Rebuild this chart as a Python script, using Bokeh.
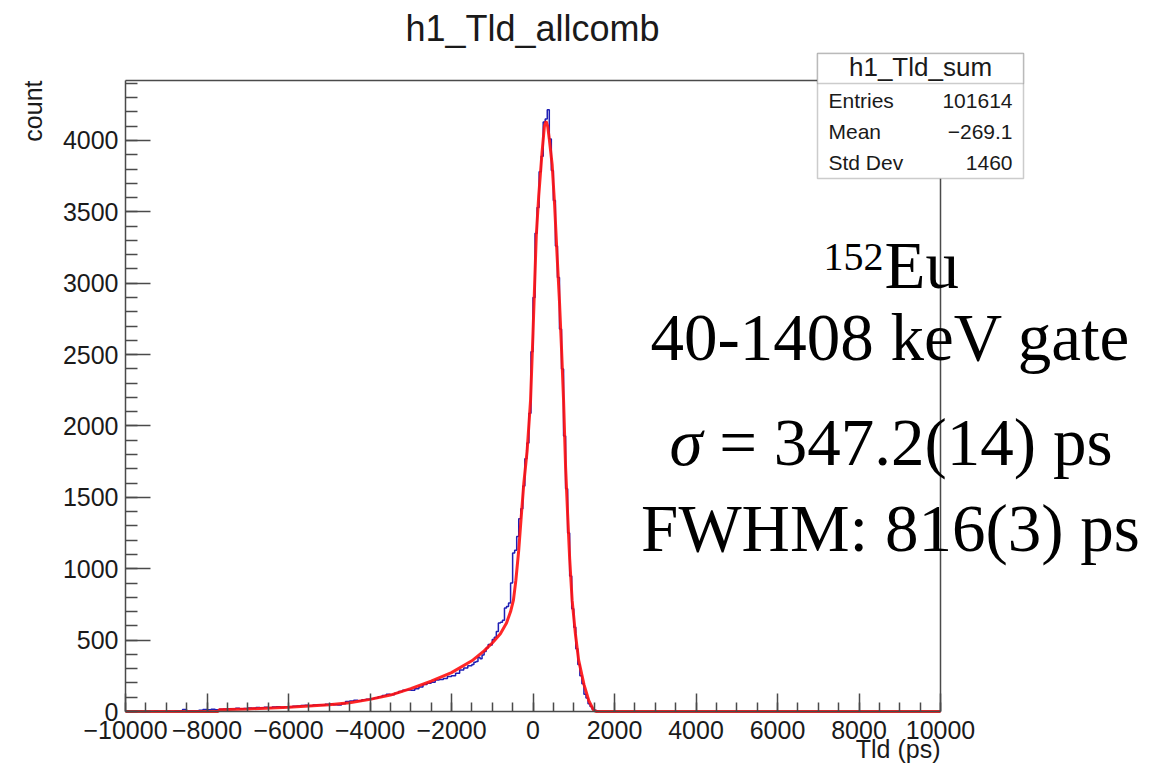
import numpy as np
from bokeh.plotting import figure
from bokeh.models import Range1d, FixedTicker, Label, BoxAnnotation
from bokeh.embed import file_html
from bokeh.resources import INLINE

# ---------------- data ----------------
# left tail: 100 ps wide steps (height = counts per 50 ps bin)
tail_edges = list(range(-10000, -1500, 100))
tail_counts = [1, 0, 2, 1, 0, 2, 1, 3, 2, 1,
               3, 2, 4, 3, 14, 5, 6, 5, 8, 14,
               13, 15, 12, 15, 18, 20, 17, 22, 19, 21,
               25, 23, 28, 26, 30, 27, 31, 33, 30, 34,
               32, 36, 38, 42, 44, 40, 45, 47, 44, 50,
               52, 48, 46, 55, 70, 74, 78, 76, 82, 86,
               90, 95, 103, 112, 120, 118, 128, 140, 148, 150,
               148, 160, 172, 190, 198, 205, 220, 225, 232, 245,
               250, 268, 290, 305, 320]
# core: 50 ps bins
core_edges = list(range(-1500, 1700, 50))
core_counts = [330, 345, 350, 380, 370, 395, 420, 445, 470, 465,
               505, 520, 560, 620, 625, 640, 725, 735, 760, 900,
               1110, 1130, 1225, 1350, 1420, 1580, 1770, 1880, 2090, 2520,
               2900, 3350, 3530, 3780, 3890, 4130, 4150, 4215, 4010, 3790,
               3580, 3260, 3040, 2680, 2400, 1930, 1560, 1250, 950, 720,
               590, 440, 330, 250, 195, 120, 95, 55, 35, 15,
               8, 3, 1, 0]
right_edges = [1700, 10000]
right_counts = [0, 0]

fit_x = [-10000, -7730, -7700, -7000, -6000, -5000, -4500, -4000, -3500, -3000,
         -2500, -2000, -1500, -1200, -1000, -800, -650, -550, -480, -420,
         -350, -290, -225, -143, -60, 0, 80, 140, 220, 280,
         320, 360, 400, 470, 530, 590, 650, 700, 750, 800,
         850, 900, 960, 1040, 1120, 1250, 1370, 1490, 1560, 10000]
fit_y = [0, 0, 12, 18, 30, 48, 62, 85, 115, 160,
         212, 272, 355, 425, 480, 545, 620, 700, 780, 920,
         1130, 1360, 1600, 1830, 2180, 2650, 3330, 3610, 3910, 4100,
         4135, 4100, 4010, 3830, 3550, 3200, 2870, 2540, 2180, 1710,
         1380, 1070, 780, 545, 360, 190, 75, 8, 0, 0]

x_ticks = [-10000, -8000, -6000, -4000, -2000, 0, 2000, 4000, 6000, 8000, 10000]
x_tick_labels = ["\u221210000", "\u22128000", "\u22126000", "\u22124000", "\u22122000",
                 "0", "2000", "4000", "6000", "8000", "10000"]
y_ticks = [0, 500, 1000, 1500, 2000, 2500, 3000, 3500, 4000]
y_tick_labels = ["0", "500", "1000", "1500", "2000", "2500", "3000", "3500", "4000"]

title_text = "h1_Tld_allcomb"
x_title = "Tld (ps)"
y_title = "count"
stats_name = "h1_Tld_sum"
stats_rows = [("Entries", "101614"), ("Mean", "\u2212269.1"), ("Std Dev", "1460")]

# ---------------- layout ----------------
W, H = 1173, 770
FL, FR, FT, FB = 125, 940, 80, 711          # pixel box of the histogram frame
X0, X1, Y0, Y1 = -10000, 10000, 0, 4420     # data limits of that frame
SX = (X1 - X0) / (FR - FL)
SY = (Y1 - Y0) / (FB - FT)


def dx(px):
    return X0 + (px - FL) * SX


def dy(py):
    return Y0 + (FB - py) * SY


SANS = "Liberation Sans"
SERIF = "Liberation Serif"
AX = "#4a4a4a"

# the plot frame fills the whole canvas; axes are pinned at the histogram edges
p = figure(width=W, height=H, output_backend="svg", toolbar_location=None,
           x_range=Range1d(dx(0), dx(W)), y_range=Range1d(dy(H), dy(0)),
           min_border=0, min_border_left=0, min_border_right=0,
           min_border_top=0, min_border_bottom=0)
p.background_fill_color = "white"
p.border_fill_color = "white"
p.outline_line_color = None
p.xgrid.visible = False
p.ygrid.visible = False

xa = p.xaxis[0]
xa.fixed_location = Y0
xa.bounds = (X0, X1)
xa.ticker = FixedTicker(ticks=x_ticks, minor_ticks=list(range(-10000, 10001, 500)))
xa.major_label_overrides = dict(zip(x_ticks, x_tick_labels))
xa.major_tick_in = 18
xa.major_tick_out = 0
xa.minor_tick_in = 9
xa.minor_tick_out = 0
xa.major_label_standoff = 9
xa.major_label_text_font = SANS
xa.major_label_text_font_size = "25px"
xa.major_label_text_color = "#1a1a1a"
xa.axis_line_color = AX
xa.axis_line_width = 1.5
xa.major_tick_line_color = AX
xa.minor_tick_line_color = AX
xa.major_tick_line_width = 1.5
xa.minor_tick_line_width = 1.5

ya = p.yaxis[0]
ya.fixed_location = X0
ya.bounds = (Y0, Y1)
ya.ticker = FixedTicker(ticks=y_ticks, minor_ticks=list(range(0, 4401, 100)))
ya.major_label_overrides = dict(zip(y_ticks, y_tick_labels))
ya.major_tick_in = 25
ya.major_tick_out = 0
ya.minor_tick_in = 12
ya.minor_tick_out = 0
ya.major_label_standoff = 7
ya.major_label_text_font = SANS
ya.major_label_text_font_size = "25px"
ya.major_label_text_color = "#1a1a1a"
ya.axis_line_color = AX
ya.axis_line_width = 1.5
ya.major_tick_line_color = AX
ya.minor_tick_line_color = AX
ya.major_tick_line_width = 1.5
ya.minor_tick_line_width = 1.5

# top and right edges of the histogram frame
p.segment(x0=[X0, X1], y0=[Y1, Y0], x1=[dx(817), X1], y1=[Y1, dy(178)],
          line_color=AX, line_width=1.5)

# histogram (blue steps) and fit (red)
hx = tail_edges + core_edges + right_edges
hy = tail_counts + core_counts + right_counts
p.step(hx, hy, mode="after", line_color="#1f1fb4", line_width=1.5)
p.line(fit_x, fit_y, line_color="#ff1010", line_width=3, line_alpha=0.9)

SHIFT = 0.38  # label anchor offset (fraction of font size) to land the baseline


def text(px, py_base, s, size, font=SANS, align="left", style="normal",
         color="#1a1a1a", angle=0.0):
    if angle == 0.0:
        x, y = px, py_base - SHIFT * size
    else:
        x, y = px - SHIFT * size, py_base
    p.add_layout(Label(x=dx(x), y=dy(y), text=s, text_font=font,
                       text_font_size=f"{size}px", text_align=align,
                       text_font_style=style, angle=angle,
                       text_baseline="alphabetic", text_color=color))


# titles
text(532, 42, title_text, 36, align="center")
text(940, 758, x_title, 25, align="right")
text(42, 80, y_title, 25, align="right", angle=np.pi / 2)

# stats box
p.add_layout(BoxAnnotation(left=dx(817), right=dx(1023), top=dy(53), bottom=dy(178),
                           fill_color="white", fill_alpha=1.0,
                           line_color="#555555", line_width=1.5))
p.add_layout(BoxAnnotation(left=dx(817), right=dx(1023), top=dy(53), bottom=dy(83),
                           fill_color="white", fill_alpha=1.0,
                           line_color="#555555", line_width=1.5))
text(920, 76, stats_name, 26, align="center")
for i, (k, v) in enumerate(stats_rows):
    yb = 108 + 31 * i
    text(828, yb, k, 21, align="left")
    text(1012, yb, v, 21, align="right")

# big annotation text
BIG = 67
text(883, 272, "152", 40, font=SERIF, align="right", color="black")
text(884, 290, "Eu", BIG, font=SERIF, align="left", color="black")
text(890, 362, "40-1408 keV gate", BIG, font=SERIF, align="center", color="black")
text(702, 467, "\u03c3", BIG, font=SERIF, align="right", style="italic", color="black")
text(702, 467, "\u00a0= 347.2(14) ps", BIG, font=SERIF, align="left", color="black")
text(890, 553, "FWHM: 816(3) ps", BIG, font=SERIF, align="center", color="black")

open("out.html", "w").write(file_html(p, INLINE))
